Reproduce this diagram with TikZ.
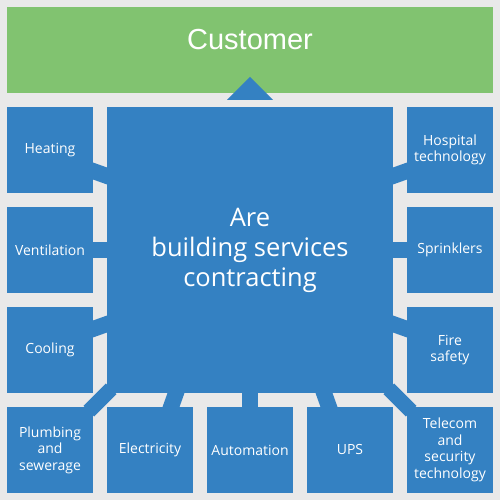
\documentclass[tikz,border=0pt]{standalone}
\usepackage{fontspec}
\setmainfont{Open Sans}
\newfontfamily\custfont{Liberation Sans}
\definecolor{boxblue}{RGB}{52,129,194}
\definecolor{custgreen}{RGB}{129,195,112}
\definecolor{bggray}{RGB}{233,233,233}

\begin{document}
\begin{tikzpicture}[x=1pt,y=1pt,
    cell/.style={fill=boxblue,text=white,minimum size=86pt,inner sep=0pt,outer sep=0pt,
      align=center,font=\fontsize{14}{16.5}\selectfont},
    link/.style={draw=boxblue,line width=16pt,shorten <=-6pt,shorten >=-6pt}]
    \fill[bggray] (0,0) rectangle (500,500);
    \node[fill=custgreen,minimum width=486pt,minimum height=86pt,outer sep=0pt] (cust) at (250,450) {};
    \node[text=white,font=\custfont\fontsize{29}{33}\selectfont] (custlabel) at ([yshift=10pt]cust.center) {Customer};
    \fill[boxblue] ([xshift=-23pt,yshift=-7pt]cust.south) -- ([yshift=16pt]cust.south) -- ([xshift=23pt,yshift=-7pt]cust.south) -- cycle;
    \node[cell,minimum size=286pt,font=\fontsize{25.5}{30}\selectfont] (core) at (250,250) {Are\\building services\\contracting};
    % left column
    \node[cell] (heating) at (50,350) {Heating};
    \node[cell] (ventilation) at (50,250) {Ventilation};
    \node[cell] (cooling) at (50,150) {Cooling};
    \node[cell] (plumbing) at (50,50) {Plumbing\\and\\sewerage};
    % bottom row
    \node[cell] (electricity) at (150,50) {Electricity};
    \node[cell] (automation) at (250,50) {Automation};
    \node[cell] (ups) at (350,50) {UPS};
    \node[cell] (telecom) at (450,50) {Telecom\\and\\security\\technology};
    % right column
    \node[cell] (fire) at (450,150) {Fire\\safety};
    \node[cell] (sprinklers) at (450,250) {Sprinklers};
    \node[cell] (hospital) at (450,350) {Hospital\\technology};

    \draw[link] ([yshift=-21pt]heating.east) -- ([yshift=74pt]core.west);
    \draw[link] (ventilation.east) -- (core.west);
    \draw[link] ([yshift=21pt]cooling.east) -- ([yshift=-74pt]core.west);
    \draw[link,line width=15pt] (plumbing.north east) -- (core.south west);
    \draw[link] ([xshift=21pt]electricity.north) -- ([xshift=-74pt]core.south);
    \draw[link] (automation.north) -- (core.south);
    \draw[link] ([xshift=-21pt]ups.north) -- ([xshift=74pt]core.south);
    \draw[link,line width=15pt] (telecom.north west) -- (core.south east);
    \draw[link] ([yshift=21pt]fire.west) -- ([yshift=-74pt]core.east);
    \draw[link] (sprinklers.west) -- (core.east);
    \draw[link] ([yshift=-21pt]hospital.west) -- ([yshift=74pt]core.east);
\end{tikzpicture}
\end{document}
